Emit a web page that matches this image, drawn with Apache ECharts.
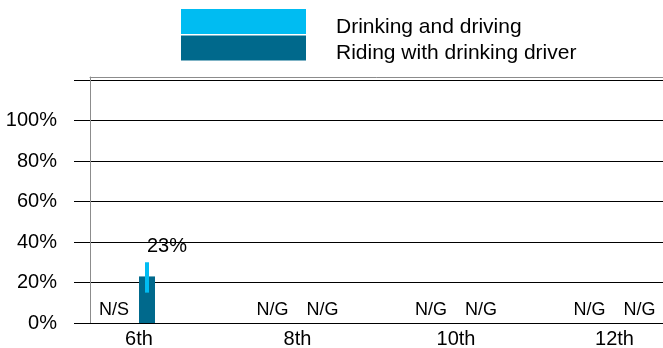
<!DOCTYPE html>
<html>
<head>
<meta charset="utf-8">
<script src="https://cdn.jsdelivr.net/npm/echarts@6/dist/echarts.min.js"></script>
<style>
  html, body { margin: 0; padding: 0; background: #fff; }
  #chart { width: 663px; height: 348px; }
</style>
</head>
<body>
<div id="chart"></div>
<script>
// Grades on the horizontal axis
const grades = ['6th', '8th', '10th', '12th'];

// Drinking and driving (%): no usable estimate in any grade
const drinkDriving = [null, null, null, null];
const drinkDrivingNote = ['N/S', 'N/G', 'N/G', 'N/G'];

// Riding with a drinking driver (%), with its confidence interval
const riding = [23, null, null, null];
const ridingLow = [15, null, null, null];
const ridingHigh = [30, null, null, null];
const ridingNote = ['', 'N/G', 'N/G', 'N/G'];

// Percent axis ticks
const yTicks = [0, 20, 40, 60, 80, 100, 120];

const LIGHT = '#00BCF2';
const DARK = '#00698C';
const FONT = '"Liberation Sans", Arial, sans-serif';

const chart = echarts.init(document.getElementById('chart'));

function noteText(x, y, text) {
  return {
    type: 'text',
    x: x, y: y,
    style: {
      text: text,
      fill: '#000',
      font: '18px ' + FONT,
      align: 'center',
      verticalAlign: 'middle'
    }
  };
}

const X_MIN = -0.3091;
const X_MAX = 3.3312;

chart.setOption({
  animation: false,
  backgroundColor: '#fff',
  textStyle: { fontFamily: FONT },
  legend: {
    left: 181,
    top: 9,
    padding: 0,
    orient: 'vertical',
    itemWidth: 125,
    itemHeight: 25,
    itemGap: -2,
    icon: 'rect',
    selectedMode: false,
    // a thin spacer line sets the name slightly below the swatch centre
    formatter: name => '{s| }\n{t|' + name + '}',
    textStyle: {
      padding: [0, 0, 0, 25],
      rich: {
        s: { fontSize: 1, lineHeight: 11 },
        t: { fontSize: 21, color: '#000', lineHeight: 14 }
      }
    },
    data: ['Drinking and driving', 'Riding with drinking driver']
  },
  grid: { left: 90, top: 77, bottom: 25, right: -4, outerBoundsMode: 'none' },
  xAxis: [
    {
      type: 'value',
      min: X_MIN,
      max: X_MAX,
      axisLine: { show: true, onZero: false, lineStyle: { color: '#000', width: 1 } },
      axisTick: { show: false },
      splitLine: { show: false },
      axisLabel: {
        customValues: grades.map((g, i) => i),
        formatter: v => grades[Math.round(v)] || '',
        fontSize: 20, color: '#000', margin: 6
      }
    },
    {
      // plain top edge of the plot frame
      type: 'value',
      position: 'top',
      min: X_MIN,
      max: X_MAX,
      axisLine: { show: true, onZero: false, lineStyle: { color: '#8c8c8c', width: 1 } },
      axisTick: { show: false },
      axisLabel: { show: false },
      splitLine: { show: false }
    }
  ],
  yAxis: {
    type: 'value',
    min: 0,
    max: 121.5,
    interval: 20,
    axisLine: { show: true, onZero: false, lineStyle: { color: '#8c8c8c', width: 1 } },
    axisTick: {
      show: true, inside: false, length: 16,
      customValues: yTicks,
      lineStyle: { color: '#000', width: 1 }
    },
    splitLine: { show: true, lineStyle: { color: '#000', width: 1 } },
    axisLabel: {
      customValues: yTicks.filter(v => v <= 100),
      formatter: v => v + '%',
      fontSize: 20, color: '#000', margin: 33
    }
  },
  series: [
    {
      name: 'Drinking and driving',
      type: 'custom',
      itemStyle: { color: LIGHT },
      data: grades.map((g, i) => [i, drinkDriving[i]]),
      renderItem: function (params, api) {
        const i = params.dataIndex;
        const base = api.coord([i, 0]);
        const children = [];
        if (drinkDriving[i] != null) {
          const top = api.coord([i, drinkDriving[i]]);
          children.push({
            type: 'rect',
            shape: { x: base[0] - 33, y: top[1], width: 16, height: base[1] - top[1] },
            style: { fill: LIGHT }
          });
        } else if (drinkDrivingNote[i]) {
          children.push(noteText(base[0] - 25, base[1] - 13, drinkDrivingNote[i]));
        }
        return { type: 'group', children: children };
      }
    },
    {
      name: 'Riding with drinking driver',
      type: 'custom',
      itemStyle: { color: DARK },
      z: 3,
      data: grades.map((g, i) => [i, riding[i]]),
      renderItem: function (params, api) {
        const i = params.dataIndex;
        const base = api.coord([i, 0]);
        const children = [];
        if (riding[i] != null) {
          const cx = base[0] + 8;
          const top = api.coord([i, riding[i]]);
          children.push({
            type: 'rect',
            shape: { x: cx - 8, y: top[1], width: 16, height: base[1] - top[1] },
            style: { fill: DARK }
          });
          const lo = api.coord([i, ridingLow[i]]);
          const hi = api.coord([i, ridingHigh[i]]);
          children.push({
            type: 'rect',
            shape: { x: cx - 2, y: hi[1], width: 4, height: lo[1] - hi[1] },
            style: { fill: LIGHT }
          });
          children.push({
            type: 'text',
            x: cx, y: hi[1] - 6,
            style: {
              text: riding[i] + '%',
              fill: '#000',
              font: '20px ' + FONT,
              align: 'left',
              verticalAlign: 'bottom'
            }
          });
        } else if (ridingNote[i]) {
          children.push(noteText(base[0] + 25, base[1] - 13, ridingNote[i]));
        }
        return { type: 'group', children: children };
      }
    }
  ]
});
</script>
</body>
</html>
